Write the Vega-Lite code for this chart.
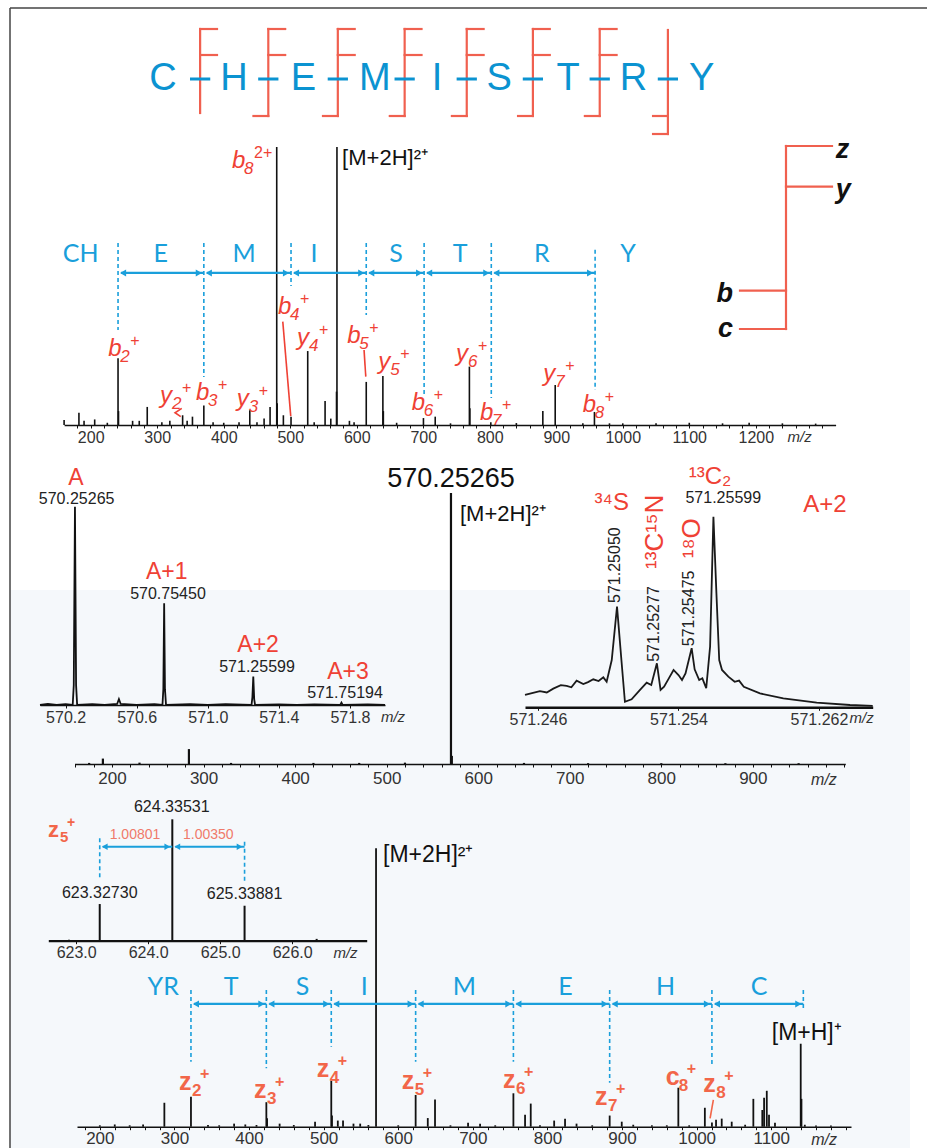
{
"$schema":"https://vega.github.io/schema/vega-lite/v6.json",
"width":927,"height":1148,"padding":0,"autosize":"none","background":"white",
"config":{"view":{"stroke":null},"axis":{"grid":false,"domainColor":"#111","tickColor":"#111","labelColor":"#333","labelFont":"Liberation Sans","labelFlush":false,"labelOverlap":false,"title":null,"domainWidth":1.6,"tickWidth":1},"text":{"font":"Liberation Sans"}},
"datasets":{
"frame_bg":[{"x1":0,"x2":0.9815,"y1":0,"y2":0.4895}],
"frame":[{"x1":0,"x2":1,"y1":1,"y2":1},{"x1":0,"x2":0,"y1":0,"y2":1}],
"hdr_letters":[{"x":1,"t":"C"},{"x":2.05,"t":"H"},{"x":3.08,"t":"E"},{"x":4.14,"t":"M"},{"x":5.06,"t":"I"},{"x":5.98,"t":"S"},{"x":7.0,"t":"T"},{"x":7.97,"t":"R"},{"x":8.98,"t":"Y"}],
"hdr_dash":[{"x1":1.4,"x2":1.7,"y":6.9},{"x1":2.41,"x2":2.71,"y":6.9},{"x1":3.44,"x2":3.74,"y":6.9},{"x1":4.43,"x2":4.73,"y":6.9},{"x1":5.35,"x2":5.65,"y":6.9},{"x1":6.33,"x2":6.63,"y":6.9},{"x1":7.32,"x2":7.62,"y":6.9},{"x1":8.33,"x2":8.63,"y":6.9}],
"hdr_red":[
{"x1":1.55,"x2":1.55,"y1":3.5,"y2":11.9},{"x1":1.55,"x2":1.8,"y1":11.9,"y2":11.9},{"x1":1.55,"x2":1.8,"y1":9.3,"y2":9.3},
{"x1":2.56,"x2":2.56,"y1":3.2,"y2":11.9},{"x1":2.56,"x2":2.81,"y1":11.9,"y2":11.9},{"x1":2.56,"x2":2.81,"y1":9.3,"y2":9.3},{"x1":2.34,"x2":2.56,"y1":3.2,"y2":3.2},
{"x1":3.59,"x2":3.59,"y1":3.2,"y2":11.9},{"x1":3.59,"x2":3.84,"y1":11.9,"y2":11.9},{"x1":3.59,"x2":3.84,"y1":9.3,"y2":9.3},{"x1":3.37,"x2":3.59,"y1":3.2,"y2":3.2},
{"x1":4.58,"x2":4.58,"y1":3.2,"y2":11.9},{"x1":4.58,"x2":4.83,"y1":11.9,"y2":11.9},{"x1":4.58,"x2":4.83,"y1":9.3,"y2":9.3},{"x1":4.36,"x2":4.58,"y1":3.2,"y2":3.2},
{"x1":5.5,"x2":5.5,"y1":3.2,"y2":11.9},{"x1":5.5,"x2":5.75,"y1":11.9,"y2":11.9},{"x1":5.5,"x2":5.75,"y1":9.3,"y2":9.3},{"x1":5.28,"x2":5.5,"y1":3.2,"y2":3.2},
{"x1":6.48,"x2":6.48,"y1":3.2,"y2":11.9},{"x1":6.48,"x2":6.73,"y1":11.9,"y2":11.9},{"x1":6.48,"x2":6.73,"y1":9.3,"y2":9.3},{"x1":6.26,"x2":6.48,"y1":3.2,"y2":3.2},
{"x1":7.47,"x2":7.47,"y1":3.2,"y2":11.9},{"x1":7.47,"x2":7.72,"y1":11.9,"y2":11.9},{"x1":7.47,"x2":7.72,"y1":9.3,"y2":9.3},{"x1":7.25,"x2":7.47,"y1":3.2,"y2":3.2},
{"x1":8.48,"x2":8.48,"y1":1.4,"y2":11.8},{"x1":8.26,"x2":8.48,"y1":3.2,"y2":3.2},{"x1":8.26,"x2":8.48,"y1":1.4,"y2":1.4}],
"top_peaks":[{"mz":160,"i":1.8},{"mz":182.3,"i":4.4},{"mz":190,"i":1.5},{"mz":206,"i":2},{"mz":225,"i":0.8},{"mz":241.1,"i":24},{"mz":241.8,"i":5},{"mz":263,"i":1.5},{"mz":273,"i":1.5},{"mz":285,"i":6.5},{"mz":307,"i":1},{"mz":319,"i":1.5},{"mz":338.2,"i":3.5},{"mz":345,"i":1.5},{"mz":353,"i":3},{"mz":370.1,"i":7},{"mz":384,"i":1},{"mz":400,"i":0.8},{"mz":423,"i":1},{"mz":439.2,"i":5.3},{"mz":450,"i":1},{"mz":460.7,"i":2.3},{"mz":469.7,"i":6.5},{"mz":479.7,"i":100},{"mz":480.4,"i":7.8},{"mz":489.7,"i":3.5},{"mz":501.2,"i":3},{"mz":526.3,"i":26.6},{"mz":536,"i":1},{"mz":552.4,"i":8.6},{"mz":561,"i":2.3},{"mz":570.25,"i":100},{"mz":569.6,"i":12},{"mz":589,"i":1.5},{"mz":596,"i":1},{"mz":614.3,"i":15.5},{"mz":639.3,"i":17.6},{"mz":640,"i":5},{"mz":660,"i":0.8},{"mz":700.3,"i":2.5},{"mz":718,"i":3},{"mz":741,"i":0.6},{"mz":769.4,"i":21},{"mz":770.1,"i":6},{"mz":801.6,"i":1},{"mz":840,"i":0.7},{"mz":879.8,"i":5},{"mz":898.4,"i":14.4},{"mz":940,"i":0.6},{"mz":957.4,"i":4.7},{"mz":980,"i":0.6},{"mz":1000,"i":0.6},{"mz":1050,"i":0.6},{"mz":1100,"i":0.8},{"mz":1150,"i":0.6},{"mz":1190,"i":0.8},{"mz":1240,"i":0.6},{"mz":1290,"i":0.5}],
"top_dash":[{"mz":241.1,"i1":65.5,"i2":34.2},{"mz":370.1,"i1":65.5,"i2":17.3},{"mz":501.2,"i1":65.5,"i2":50},{"mz":614.3,"i1":65.5,"i2":39.6},{"mz":701.3,"i1":65.5,"i2":10.8},{"mz":802.3,"i1":65.5,"i2":9.7},{"mz":958.4,"i1":63,"i2":12.6}],
"top_arr":[{"a":241.1,"b":370.1,"i":54.7},{"a":370.1,"b":501.2,"i":54.7},{"a":501.2,"b":614.3,"i":54.7},{"a":614.3,"b":701.3,"i":54.7},{"a":701.3,"b":802.3,"i":54.7},{"a":802.3,"b":958.4,"i":54.7}],
"top_res":[{"mz":185,"i":61.5,"t":"CH"},{"mz":305.3,"i":61.5,"t":"E"},{"mz":430.6,"i":61.5,"t":"M"},{"mz":535.8,"i":61.5,"t":"I"},{"mz":658.9,"i":61.5,"t":"S"},{"mz":755.4,"i":61.5,"t":"T"},{"mz":878.2,"i":61.5,"t":"R"},{"mz":1008,"i":61.5,"t":"Y"}],
"top_ions":[{"mz":226.2,"i":25,"b":"b","s":"2","p":"+"},{"mz":304.3,"i":7.9,"b":"y","s":"2","p":"+"},{"mz":358.4,"i":9,"b":"b","s":"3","p":"+"},{"mz":419.6,"i":6.8,"b":"y","s":"3","p":"+"},{"mz":481.5,"i":39.8,"b":"b","s":"4","p":"+"},{"mz":510,"i":28.6,"b":"y","s":"4","p":"+"},{"mz":585.9,"i":29.5,"b":"b","s":"5","p":"+"},{"mz":632.5,"i":20.1,"b":"y","s":"5","p":"+"},{"mz":682.7,"i":5.4,"b":"b","s":"6","p":"+"},{"mz":749.4,"i":23,"b":"y","s":"6","p":"+"},{"mz":785.5,"i":1.8,"b":"b","s":"7","p":"+"},{"mz":880.6,"i":15.8,"b":"y","s":"7","p":"+"},{"mz":939.9,"i":4.8,"b":"b","s":"8","p":"+"},{"mz":412.5,"i":92.4,"b":"b","s":"8","p":"2+"}],
"top_lead":[{"id":"b4","s":0,"mz":488.8,"i":37.2},{"id":"b4","s":1,"mz":500.8,"i":3.2},{"id":"b5","s":0,"mz":611,"i":27},{"id":"b5","s":1,"mz":613.6,"i":17.4},{"id":"y2","s":0,"mz":336.9,"i":6},{"id":"y2","s":1,"mz":326.8,"i":4.4},{"id":"y2","s":2,"mz":335.4,"i":3}],
"top_black":[{"mz":578,"i":96,"t":"[M+2H]²⁺"}],
"top_mz":[{"mz":1266,"i":-4.3,"t":"m/z"}],
"leg_seg":[{"x1":1,"x2":1,"y1":0,"y2":4},{"x1":1,"x2":2,"y1":4,"y2":4},{"x1":1,"x2":2,"y1":3.11,"y2":3.11},{"x1":0,"x2":1,"y1":0.84,"y2":0.84},{"x1":0,"x2":1,"y1":0,"y2":0}],
"leg_r":[{"x":2.08,"y":3.91,"t":"z"},{"x":2.08,"y":3.04,"t":"y"}],
"leg_l":[{"x":-0.15,"y":0.77,"t":"b"},{"x":-0.15,"y":0,"t":"c"}],
"mid_peaks":[{"mz":175,"i":0.4},{"mz":190,"i":2},{"mz":230,"i":0.5},{"mz":284,"i":5.5},{"mz":330,"i":0.4},{"mz":420,"i":0.4},{"mz":470,"i":0.4},{"mz":520,"i":0.5},{"mz":570.25,"i":100},{"mz":571.2,"i":3},{"mz":650,"i":0.4},{"mz":720,"i":0.3},{"mz":800,"i":0.3},{"mz":870,"i":0.3},{"mz":950,"i":0.3}],
"mid_big":[{"mz":570.25,"i":105.2,"t":"570.25265"}],
"mid_ion":[{"mz":580.1,"i":92.3,"t":"[M+2H]²⁺"}],
"mid_mz":[{"mz":977.7,"i":-5.9,"t":"m/z"}],
"in1_line":[{"mz":570.056,"i":0},{"mz":570.1,"i":0.5},{"mz":570.15,"i":0},{"mz":570.2,"i":0.4},{"mz":570.24,"i":0},{"mz":570.246,"i":10},{"mz":570.2527,"i":100},{"mz":570.259,"i":10},{"mz":570.265,"i":0},{"mz":570.35,"i":0.4},{"mz":570.42,"i":0},{"mz":570.49,"i":0.5},{"mz":570.5,"i":3},{"mz":570.51,"i":0.5},{"mz":570.6,"i":0},{"mz":570.7,"i":0.4},{"mz":570.745,"i":0},{"mz":570.75,"i":8},{"mz":570.7545,"i":51.3},{"mz":570.759,"i":8},{"mz":570.765,"i":0},{"mz":570.9,"i":0.4},{"mz":571.0,"i":0},{"mz":571.1,"i":0.4},{"mz":571.246,"i":0},{"mz":571.251,"i":4},{"mz":571.256,"i":14.3},{"mz":571.261,"i":3},{"mz":571.266,"i":0},{"mz":571.4,"i":0.3},{"mz":571.5,"i":0},{"mz":571.6,"i":0.3},{"mz":571.745,"i":0},{"mz":571.752,"i":1.2},{"mz":571.759,"i":0},{"mz":571.9,"i":0.3},{"mz":571.997,"i":0}],
"in1_red":[{"mz":570.258,"i":114.5,"t":"A"},{"mz":570.769,"i":67.2,"t":"A+1"},{"mz":571.283,"i":30.3,"t":"A+2"},{"mz":571.789,"i":16.8,"t":"A+3"}],
"in1_num":[{"mz":570.262,"i":103.9,"t":"570.25265"},{"mz":570.776,"i":56,"t":"570.75450"},{"mz":571.277,"i":19,"t":"571.25599"},{"mz":571.772,"i":5.9,"t":"571.75194"}],
"in1_mz":[{"mz":572.042,"i":-6,"t":"m/z"}],
"in2_line":[{"mz":571.24526,"i":6.5},{"mz":571.24611,"i":8.5},{"mz":571.2465,"i":7.8},{"mz":571.24687,"i":9.8},{"mz":571.2473,"i":11.6},{"mz":571.24763,"i":11.2},{"mz":571.2479,"i":10.5},{"mz":571.2482,"i":14},{"mz":571.24858,"i":12.2},{"mz":571.24885,"i":13.2},{"mz":571.24915,"i":14.7},{"mz":571.24945,"i":13.8},{"mz":571.24972,"i":15.7},{"mz":571.24991,"i":13.4},{"mz":571.2502,"i":24.8},{"mz":571.2505,"i":52.8},{"mz":571.25075,"i":24.8},{"mz":571.25095,"i":2.9},{"mz":571.25133,"i":4.2},{"mz":571.25181,"i":9.1},{"mz":571.25219,"i":12.9},{"mz":571.25245,"i":11.7},{"mz":571.25277,"i":23.1},{"mz":571.25298,"i":9.1},{"mz":571.25318,"i":10.8},{"mz":571.25345,"i":15.2},{"mz":571.25372,"i":19.6},{"mz":571.254,"i":16.9},{"mz":571.2542,"i":14.3},{"mz":571.2544,"i":17.8},{"mz":571.25475,"i":31},{"mz":571.25492,"i":19.9},{"mz":571.25518,"i":14.3},{"mz":571.25536,"i":15.2},{"mz":571.25558,"i":10},{"mz":571.2558,"i":31.8},{"mz":571.25599,"i":100},{"mz":571.25616,"i":59.8},{"mz":571.25632,"i":24.8},{"mz":571.25648,"i":19.6},{"mz":571.25684,"i":16.1},{"mz":571.2572,"i":13.4},{"mz":571.25745,"i":14},{"mz":571.25772,"i":10.8},{"mz":571.25864,"i":7.3},{"mz":571.25997,"i":4.7},{"mz":571.26187,"i":2.4},{"mz":571.26377,"i":1.2},{"mz":571.26506,"i":0.7}],
"in2_num_h":[{"mz":571.25655,"i":109.7,"t":"571.25599"}],
"in2_num_v":[{"mz":571.2504,"i":74.6,"t":"571.25050"},{"mz":571.2526,"i":43.7,"t":"571.25277"},{"mz":571.2546,"i":51.9,"t":"571.25475"}],
"in2_red_h":[{"mz":571.2558,"i":121,"t":"¹³C₂"},{"mz":571.2502,"i":107,"t":"³⁴S"},{"mz":571.26234,"i":106.1,"t":"A+2"}],
"in2_red_v":[{"mz":571.25266,"i":92.1,"t":"¹³C¹⁵N"},{"mz":571.25475,"i":88.7,"t":"¹⁸O"}],
"in2_mz":[{"mz":571.26443,"i":-5.8,"t":"m/z"}],
"bot_peaks":[{"mz":200,"i":0.5},{"mz":220,"i":0.8},{"mz":240,"i":0.5},{"mz":258,"i":0.8},{"mz":286.5,"i":8.6},{"mz":322.16,"i":10.8},{"mz":345,"i":0.6},{"mz":360,"i":0.5},{"mz":380,"i":1.1},{"mz":395,"i":0.8},{"mz":410,"i":0.6},{"mz":423.21,"i":8.8},{"mz":424.2,"i":3},{"mz":441,"i":1.1},{"mz":460,"i":0.6},{"mz":488.5,"i":1.8},{"mz":510.24,"i":16.5},{"mz":511.2,"i":4},{"mz":519,"i":2.2},{"mz":526,"i":2.2},{"mz":540,"i":1.1},{"mz":549,"i":1.1},{"mz":560,"i":0.6},{"mz":570.25,"i":100},{"mz":600,"i":0.5},{"mz":623.33,"i":11.4},{"mz":639.6,"i":3.1},{"mz":649.3,"i":9.8},{"mz":670,"i":0.5},{"mz":693.6,"i":1.4},{"mz":709.7,"i":1.1},{"mz":730,"i":0.5},{"mz":754.37,"i":12},{"mz":770,"i":4.3},{"mz":777.6,"i":8.3},{"mz":790,"i":0.5},{"mz":809,"i":2.2},{"mz":823.6,"i":2.9},{"mz":839,"i":1.1},{"mz":860,"i":0.5},{"mz":883.41,"i":4},{"mz":899.6,"i":1.8},{"mz":915,"i":0.7},{"mz":940,"i":0.5},{"mz":960,"i":0.5},{"mz":975.45,"i":14},{"mz":990,"i":0.5},{"mz":1011,"i":6.8},{"mz":1020.5,"i":1.5},{"mz":1026,"i":2.5},{"mz":1033.6,"i":2.9},{"mz":1047,"i":1.8},{"mz":1065,"i":0.7},{"mz":1076,"i":10},{"mz":1088,"i":6},{"mz":1090.4,"i":10.4},{"mz":1094,"i":12.9},{"mz":1097,"i":4.3},{"mz":1105,"i":1.4},{"mz":1139.5,"i":29.8},{"mz":1140.5,"i":10},{"mz":1145,"i":0.7},{"mz":1160,"i":0.4},{"mz":1180,"i":0.4}],
"bot_dash":[{"mz":322.16,"i1":49.1,"i2":23.3},{"mz":423.21,"i1":49.1,"i2":21},{"mz":510.24,"i1":49.1,"i2":28.7},{"mz":623.33,"i1":49.1,"i2":23.3},{"mz":754.37,"i1":49.1,"i2":23.3},{"mz":883.41,"i1":49.1,"i2":15.8},{"mz":1020.47,"i1":49.1,"i2":22.2},{"mz":1143,"i1":49.1,"i2":42.5}],
"bot_arr":[{"a":322.16,"b":423.21,"i":44.1},{"a":423.21,"b":510.24,"i":44.1},{"a":510.24,"b":623.33,"i":44.1},{"a":623.33,"b":754.37,"i":44.1},{"a":754.37,"b":883.41,"i":44.1},{"a":883.41,"b":1020.47,"i":44.1},{"a":1020.47,"b":1143,"i":44.1}],
"bot_res":[{"mz":284.9,"i":50.3,"t":"YR"},{"mz":375.9,"i":50.3,"t":"T"},{"mz":471.6,"i":50.3,"t":"S"},{"mz":554.6,"i":50.3,"t":"I"},{"mz":688.6,"i":50.3,"t":"M"},{"mz":824.3,"i":50.3,"t":"E"},{"mz":958.3,"i":50.3,"t":"H"},{"mz":1083.6,"i":50.3,"t":"C"}],
"bot_ions":[{"mz":306.2,"i":13.2,"b":"z","s":"2","p":"+"},{"mz":406.7,"i":10.2,"b":"z","s":"3","p":"+"},{"mz":490.8,"i":18,"b":"z","s":"4","p":"+"},{"mz":604.7,"i":13.5,"b":"z","s":"5","p":"+"},{"mz":740.5,"i":13.9,"b":"z","s":"6","p":"+"},{"mz":863.8,"i":7.8,"b":"z","s":"7","p":"+"},{"mz":958.6,"i":15,"b":"c","s":"8","p":"+"},{"mz":1009,"i":12.6,"b":"z","s":"8","p":"+"}],
"bot_lead":[{"id":"z8","s":0,"mz":1022.4,"i":9.6},{"id":"z8","s":1,"mz":1018,"i":3}],
"bot_black":[{"mz":579.6,"i":97.6,"t":"[M+2H]²⁺"},{"mz":1100.7,"i":33.5,"t":"[M+H]⁺"}],
"bot_mz":[{"mz":1170.8,"i":-4.8,"t":"m/z"}],
"in3_peaks":[{"mz":622.7,"i":0.5},{"mz":622.9,"i":0.8},{"mz":623.1,"i":0.5},{"mz":623.3273,"i":30.2},{"mz":623.6,"i":0.6},{"mz":623.9,"i":0.6},{"mz":624.1,"i":0.5},{"mz":624.3353,"i":100},{"mz":624.6,"i":0.6},{"mz":624.9,"i":0.6},{"mz":625.1,"i":0.5},{"mz":625.3388,"i":28.8},{"mz":625.6,"i":0.6},{"mz":625.9,"i":0.5},{"mz":626.1,"i":0.6},{"mz":626.34,"i":1.5},{"mz":626.6,"i":0.5},{"mz":626.8,"i":0.5}],
"in3_dash":[{"mz":623.3273,"i1":84.3,"i2":51.4},{"mz":625.3388,"i1":81.5,"i2":47.3}],
"in3_arr":[{"a":623.3273,"b":624.3353,"i":77.4},{"a":624.3353,"b":625.3388,"i":77.4}],
"in3_num":[{"mz":624.328,"i":109.9,"t":"624.33531"},{"mz":623.327,"i":39,"t":"623.32730"},{"mz":625.339,"i":38.2,"t":"625.33881"}],
"in3_red":[{"mz":623.817,"i":87.1,"t":"1.00801"},{"mz":624.835,"i":87.1,"t":"1.00350"}],
"in3_z":[{"mz":622.61,"i":85.7,"b":"z","s":"5","p":"+"}],
"in3_mz":[{"mz":626.74,"i":-10.1,"t":"m/z"}]
},
"layer":[
 {"data":{"name":"frame_bg"},"mark":{"type":"rect","fill":"#f5f8fb"},"encoding":{"x":{"field":"x1","type":"quantitative","scale":{"domain":[0,1],"range":[10,927],"nice":false,"zero":false},"axis":null},"x2":{"field":"x2"},"y":{"field":"y1","type":"quantitative","scale":{"domain":[0,1],"range":[1148,8],"nice":false,"zero":false},"axis":null},"y2":{"field":"y2"}}},
 {"data":{"name":"frame"},"mark":{"type":"rule","color":"#444","strokeWidth":1.5},"encoding":{"x":{"field":"x1","type":"quantitative","scale":{"domain":[0,1],"range":[10,927],"nice":false,"zero":false},"axis":null},"x2":{"field":"x2"},"y":{"field":"y1","type":"quantitative","scale":{"domain":[0,1],"range":[1148,8],"nice":false,"zero":false},"axis":null},"y2":{"field":"y2"}}},
 {"data":{"name":"hdr_red"},"mark":{"type":"rule","color":"#f0604f","strokeWidth":2.2,"strokeCap":"square"},"encoding":{"x":{"field":"x1","type":"quantitative","scale":{"domain":[1,9],"range":[163,703],"nice":false,"zero":false},"axis":null},"x2":{"field":"x2"},"y":{"field":"y1","type":"quantitative","scale":{"domain":[0,12],"range":[148,28],"nice":false,"zero":false},"axis":null},"y2":{"field":"y2"}}},
 {"data":{"name":"hdr_dash"},"mark":{"type":"rule","color":"#0b93d1","strokeWidth":3},"encoding":{"x":{"field":"x1","type":"quantitative","scale":{"domain":[1,9],"range":[163,703],"nice":false,"zero":false},"axis":null},"x2":{"field":"x2"},"y":{"field":"y","type":"quantitative","scale":{"domain":[0,12],"range":[148,28],"nice":false,"zero":false},"axis":null}}},
 {"data":{"name":"hdr_letters"},"mark":{"type":"text","color":"#0b93d1","fontSize":38,"align":"center","baseline":"middle"},"encoding":{"x":{"field":"x","type":"quantitative","scale":{"domain":[1,9],"range":[163,703],"nice":false,"zero":false},"axis":null},"y":{"datum":6.9,"type":"quantitative","scale":{"domain":[0,12],"range":[148,28],"nice":false,"zero":false},"axis":null},"text":{"field":"t"}}},
 {"data":{"name":"top_peaks"},"mark":{"type":"rule","color":"#111","strokeWidth":1.6},"encoding":{"x":{"field":"mz","type":"quantitative","scale":{"domain":[160,1320],"range":[64.1,835.6],"nice":false,"zero":false},"axis":{"orient":"bottom","offset":-723,"zindex":1,"title":null,"values":[180,200,220,240,260,280,300,320,340,360,380,400,420,440,460,480,500,520,540,560,580,600,620,640,660,680,700,720,740,760,780,800,820,840,860,880,900,920,940,960,980,1000,1020,1040,1060,1080,1100,1120,1140,1160,1180,1200,1220,1240,1260,1280,1300],"format":"d","labelExpr":"(datum.value % 100 === 0 && datum.value <= 1200) ? datum.label : ''","tickSize":3,"labelPadding":1,"labelFontSize":16}},"y":{"field":"i","type":"quantitative","scale":{"domain":[0,100],"range":[425,147],"nice":false,"zero":false},"axis":null},"y2":{"datum":0}}},
 {"data":{"name":"top_dash"},"mark":{"type":"rule","color":"#1a9fdb","strokeWidth":1.6,"strokeDash":[4,3]},"encoding":{"x":{"field":"mz","type":"quantitative","scale":{"domain":[160,1320],"range":[64.1,835.6],"nice":false,"zero":false},"axis":null},"y":{"field":"i1","type":"quantitative","scale":{"domain":[0,100],"range":[425,147],"nice":false,"zero":false},"axis":null},"y2":{"field":"i2"}}},
 {"data":{"name":"top_arr"},"mark":{"type":"rule","color":"#1a9fdb","strokeWidth":2.2},"encoding":{"x":{"field":"a","type":"quantitative","scale":{"domain":[160,1320],"range":[64.1,835.6],"nice":false,"zero":false},"axis":null},"x2":{"field":"b"},"xOffset":{"value":3},"x2Offset":{"value":-3},"y":{"field":"i","type":"quantitative","scale":{"domain":[0,100],"range":[425,147],"nice":false,"zero":false},"axis":null}}},
 {"data":{"name":"top_arr"},"mark":{"type":"point","shape":"triangle-left","filled":true,"color":"#1a9fdb","size":50,"opacity":1},"encoding":{"x":{"field":"a","type":"quantitative","scale":{"domain":[160,1320],"range":[64.1,835.6],"nice":false,"zero":false},"axis":null},"xOffset":{"value":5},"y":{"field":"i","type":"quantitative","scale":{"domain":[0,100],"range":[425,147],"nice":false,"zero":false},"axis":null}}},
 {"data":{"name":"top_arr"},"mark":{"type":"point","shape":"triangle-right","filled":true,"color":"#1a9fdb","size":50,"opacity":1},"encoding":{"x":{"field":"b","type":"quantitative","scale":{"domain":[160,1320],"range":[64.1,835.6],"nice":false,"zero":false},"axis":null},"xOffset":{"value":-5},"y":{"field":"i","type":"quantitative","scale":{"domain":[0,100],"range":[425,147],"nice":false,"zero":false},"axis":null}}},
 {"data":{"name":"top_res"},"mark":{"type":"text","color":"#1a9fdb","font":"Lato","fontSize":25,"align":"center","baseline":"middle"},"encoding":{"x":{"field":"mz","type":"quantitative","scale":{"domain":[160,1320],"range":[64.1,835.6],"nice":false,"zero":false},"axis":null},"y":{"field":"i","type":"quantitative","scale":{"domain":[0,100],"range":[425,147],"nice":false,"zero":false},"axis":null},"text":{"field":"t"}}},
 {"data":{"name":"top_lead"},"mark":{"type":"line","color":"#ef4135","strokeWidth":1.6},"encoding":{"x":{"field":"mz","type":"quantitative","scale":{"domain":[160,1320],"range":[64.1,835.6],"nice":false,"zero":false},"axis":null},"y":{"field":"i","type":"quantitative","scale":{"domain":[0,100],"range":[425,147],"nice":false,"zero":false},"axis":null},"detail":{"field":"id"},"order":{"field":"s"}}},
 {"data":{"name":"top_ions"},"mark":{"type":"text","color":"#ef4135","fontSize":24,"fontStyle":"italic","align":"left","baseline":"alphabetic"},"encoding":{"x":{"field":"mz","type":"quantitative","scale":{"domain":[160,1320],"range":[64.1,835.6],"nice":false,"zero":false},"axis":null},"y":{"field":"i","type":"quantitative","scale":{"domain":[0,100],"range":[425,147],"nice":false,"zero":false},"axis":null},"text":{"field":"b"}}},
 {"data":{"name":"top_ions"},"mark":{"type":"text","color":"#ef4135","fontSize":17,"fontStyle":"italic","align":"left","baseline":"alphabetic","dx":12,"dy":6},"encoding":{"x":{"field":"mz","type":"quantitative","scale":{"domain":[160,1320],"range":[64.1,835.6],"nice":false,"zero":false},"axis":null},"y":{"field":"i","type":"quantitative","scale":{"domain":[0,100],"range":[425,147],"nice":false,"zero":false},"axis":null},"text":{"field":"s"}}},
 {"data":{"name":"top_ions"},"mark":{"type":"text","color":"#ef4135","fontSize":16,"align":"left","baseline":"alphabetic","dx":22,"dy":-10},"encoding":{"x":{"field":"mz","type":"quantitative","scale":{"domain":[160,1320],"range":[64.1,835.6],"nice":false,"zero":false},"axis":null},"y":{"field":"i","type":"quantitative","scale":{"domain":[0,100],"range":[425,147],"nice":false,"zero":false},"axis":null},"text":{"field":"p"}}},
 {"data":{"name":"top_black"},"mark":{"type":"text","color":"#111","fontSize":22,"align":"left","baseline":"middle"},"encoding":{"x":{"field":"mz","type":"quantitative","scale":{"domain":[160,1320],"range":[64.1,835.6],"nice":false,"zero":false},"axis":null},"y":{"field":"i","type":"quantitative","scale":{"domain":[0,100],"range":[425,147],"nice":false,"zero":false},"axis":null},"text":{"field":"t"}}},
 {"data":{"name":"top_mz"},"mark":{"type":"text","color":"#333","fontSize":15,"fontStyle":"italic","align":"center","baseline":"middle"},"encoding":{"x":{"field":"mz","type":"quantitative","scale":{"domain":[160,1320],"range":[64.1,835.6],"nice":false,"zero":false},"axis":null},"y":{"field":"i","type":"quantitative","scale":{"domain":[0,100],"range":[425,147],"nice":false,"zero":false},"axis":null},"text":{"field":"t"}}},
 {"data":{"name":"leg_seg"},"mark":{"type":"rule","color":"#f0604f","strokeWidth":2.2,"strokeCap":"square"},"encoding":{"x":{"field":"x1","type":"quantitative","scale":{"domain":[0,2],"range":[740,832],"nice":false,"zero":false},"axis":null},"x2":{"field":"x2"},"y":{"field":"y1","type":"quantitative","scale":{"domain":[0,4],"range":[329,146],"nice":false,"zero":false},"axis":null},"y2":{"field":"y2"}}},
 {"data":{"name":"leg_r"},"mark":{"type":"text","color":"#111","fontSize":27,"fontStyle":"italic","fontWeight":"bold","align":"left","baseline":"middle"},"encoding":{"x":{"field":"x","type":"quantitative","scale":{"domain":[0,2],"range":[740,832],"nice":false,"zero":false},"axis":null},"y":{"field":"y","type":"quantitative","scale":{"domain":[0,4],"range":[329,146],"nice":false,"zero":false},"axis":null},"text":{"field":"t"}}},
 {"data":{"name":"leg_l"},"mark":{"type":"text","color":"#111","fontSize":27,"fontStyle":"italic","fontWeight":"bold","align":"right","baseline":"middle"},"encoding":{"x":{"field":"x","type":"quantitative","scale":{"domain":[0,2],"range":[740,832],"nice":false,"zero":false},"axis":null},"y":{"field":"y","type":"quantitative","scale":{"domain":[0,4],"range":[329,146],"nice":false,"zero":false},"axis":null},"text":{"field":"t"}}},
 {"data":{"name":"mid_peaks"},"mark":{"type":"rule","color":"#111","strokeWidth":2.2},"encoding":{"x":{"field":"mz","type":"quantitative","scale":{"domain":[159,1001],"range":[74.5,845.3],"nice":false,"zero":false},"axis":{"orient":"bottom","offset":-384,"zindex":1,"title":null,"values":[160,180,200,220,240,260,280,300,320,340,360,380,400,420,440,460,480,500,520,540,560,580,600,620,640,660,680,700,720,740,760,780,800,820,840,860,880,900,920,940,960,980,1000],"format":"d","labelExpr":"(datum.value % 100 === 0 && datum.value <= 900) ? datum.label : ''","tickSize":3,"labelPadding":3,"labelFontSize":17}},"y":{"field":"i","type":"quantitative","scale":{"domain":[0,100],"range":[764,493],"nice":false,"zero":false},"axis":null},"y2":{"datum":0}}},
 {"data":{"name":"mid_big"},"mark":{"type":"text","color":"#111","fontSize":27,"align":"center","baseline":"middle"},"encoding":{"x":{"field":"mz","type":"quantitative","scale":{"domain":[159,1001],"range":[74.5,845.3],"nice":false,"zero":false},"axis":null},"y":{"field":"i","type":"quantitative","scale":{"domain":[0,100],"range":[764,493],"nice":false,"zero":false},"axis":null},"text":{"field":"t"}}},
 {"data":{"name":"mid_ion"},"mark":{"type":"text","color":"#111","fontSize":22,"align":"left","baseline":"middle"},"encoding":{"x":{"field":"mz","type":"quantitative","scale":{"domain":[159,1001],"range":[74.5,845.3],"nice":false,"zero":false},"axis":null},"y":{"field":"i","type":"quantitative","scale":{"domain":[0,100],"range":[764,493],"nice":false,"zero":false},"axis":null},"text":{"field":"t"}}},
 {"data":{"name":"mid_mz"},"mark":{"type":"text","color":"#333","fontSize":16,"fontStyle":"italic","align":"center","baseline":"middle"},"encoding":{"x":{"field":"mz","type":"quantitative","scale":{"domain":[159,1001],"range":[74.5,845.3],"nice":false,"zero":false},"axis":null},"y":{"field":"i","type":"quantitative","scale":{"domain":[0,100],"range":[764,493],"nice":false,"zero":false},"axis":null},"text":{"field":"t"}}},
 {"data":{"name":"in1_line"},"mark":{"type":"line","color":"#111","strokeWidth":1.8},"encoding":{"x":{"field":"mz","type":"quantitative","scale":{"domain":[570.056,571.997],"range":[40,385],"nice":false,"zero":false},"axis":{"orient":"bottom","offset":-443,"zindex":1,"title":null,"values":[570.2,570.6,571.0,571.4,571.8],"format":".1f","tickSize":3,"labelPadding":1,"labelFontSize":16}},"y":{"field":"i","type":"quantitative","scale":{"domain":[0,100],"range":[705,506.7],"nice":false,"zero":false},"axis":null}}},
 {"data":{"name":"in1_red"},"mark":{"type":"text","color":"#ef4135","fontSize":23,"align":"center","baseline":"middle"},"encoding":{"x":{"field":"mz","type":"quantitative","scale":{"domain":[570.056,571.997],"range":[40,385],"nice":false,"zero":false},"axis":null},"y":{"field":"i","type":"quantitative","scale":{"domain":[0,100],"range":[705,506.7],"nice":false,"zero":false},"axis":null},"text":{"field":"t"}}},
 {"data":{"name":"in1_num"},"mark":{"type":"text","color":"#222","fontSize":16,"align":"center","baseline":"middle"},"encoding":{"x":{"field":"mz","type":"quantitative","scale":{"domain":[570.056,571.997],"range":[40,385],"nice":false,"zero":false},"axis":null},"y":{"field":"i","type":"quantitative","scale":{"domain":[0,100],"range":[705,506.7],"nice":false,"zero":false},"axis":null},"text":{"field":"t"}}},
 {"data":{"name":"in1_mz"},"mark":{"type":"text","color":"#333","fontSize":15,"fontStyle":"italic","align":"center","baseline":"middle"},"encoding":{"x":{"field":"mz","type":"quantitative","scale":{"domain":[570.056,571.997],"range":[40,385],"nice":false,"zero":false},"axis":null},"y":{"field":"i","type":"quantitative","scale":{"domain":[0,100],"range":[705,506.7],"nice":false,"zero":false},"axis":null},"text":{"field":"t"}}},
 {"data":{"name":"in2_line"},"mark":{"type":"line","color":"#1a1a1a","strokeWidth":1.8},"encoding":{"x":{"field":"mz","type":"quantitative","scale":{"domain":[571.24526,571.26506],"range":[525,872.7],"nice":false,"zero":false},"axis":{"orient":"bottom","offset":-440.7,"zindex":1,"title":null,"values":[571.246,571.254,571.262],"format":".3f","tickSize":3,"labelPadding":1,"labelFontSize":16,"domainWidth":2.5}},"y":{"field":"i","type":"quantitative","scale":{"domain":[0,100],"range":[707.3,516.7],"nice":false,"zero":false},"axis":null}}},
 {"data":{"name":"in2_num_h"},"mark":{"type":"text","color":"#222","fontSize":16,"align":"center","baseline":"middle"},"encoding":{"x":{"field":"mz","type":"quantitative","scale":{"domain":[571.24526,571.26506],"range":[525,872.7],"nice":false,"zero":false},"axis":null},"y":{"field":"i","type":"quantitative","scale":{"domain":[0,100],"range":[707.3,516.7],"nice":false,"zero":false},"axis":null},"text":{"field":"t"}}},
 {"data":{"name":"in2_num_v"},"mark":{"type":"text","color":"#222","fontSize":16,"angle":270,"align":"center","baseline":"middle"},"encoding":{"x":{"field":"mz","type":"quantitative","scale":{"domain":[571.24526,571.26506],"range":[525,872.7],"nice":false,"zero":false},"axis":null},"y":{"field":"i","type":"quantitative","scale":{"domain":[0,100],"range":[707.3,516.7],"nice":false,"zero":false},"axis":null},"text":{"field":"t"}}},
 {"data":{"name":"in2_red_h"},"mark":{"type":"text","color":"#ef4135","fontSize":24,"align":"center","baseline":"middle"},"encoding":{"x":{"field":"mz","type":"quantitative","scale":{"domain":[571.24526,571.26506],"range":[525,872.7],"nice":false,"zero":false},"axis":null},"y":{"field":"i","type":"quantitative","scale":{"domain":[0,100],"range":[707.3,516.7],"nice":false,"zero":false},"axis":null},"text":{"field":"t"}}},
 {"data":{"name":"in2_red_v"},"mark":{"type":"text","color":"#ef4135","fontSize":26,"angle":270,"align":"center","baseline":"middle"},"encoding":{"x":{"field":"mz","type":"quantitative","scale":{"domain":[571.24526,571.26506],"range":[525,872.7],"nice":false,"zero":false},"axis":null},"y":{"field":"i","type":"quantitative","scale":{"domain":[0,100],"range":[707.3,516.7],"nice":false,"zero":false},"axis":null},"text":{"field":"t"}}},
 {"data":{"name":"in2_mz"},"mark":{"type":"text","color":"#333","fontSize":15,"fontStyle":"italic","align":"center","baseline":"middle"},"encoding":{"x":{"field":"mz","type":"quantitative","scale":{"domain":[571.24526,571.26506],"range":[525,872.7],"nice":false,"zero":false},"axis":null},"y":{"field":"i","type":"quantitative","scale":{"domain":[0,100],"range":[707.3,516.7],"nice":false,"zero":false},"axis":null},"text":{"field":"t"}}},
 {"data":{"name":"bot_peaks"},"mark":{"type":"rule","color":"#111","strokeWidth":1.8},"encoding":{"x":{"field":"mz","type":"quantitative","scale":{"domain":[169.4,1206.9],"range":[77,851],"nice":false,"zero":false},"axis":{"orient":"bottom","offset":-21.3,"zindex":1,"title":null,"values":[180,200,220,240,260,280,300,320,340,360,380,400,420,440,460,480,500,520,540,560,580,600,620,640,660,680,700,720,740,760,780,800,820,840,860,880,900,920,940,960,980,1000,1020,1040,1060,1080,1100,1120,1140,1160,1180,1200],"format":"d","labelExpr":"(datum.value % 100 === 0 && datum.value <= 1100) ? datum.label : ''","tickSize":3,"labelPadding":1,"labelFontSize":17}},"y":{"field":"i","type":"quantitative","scale":{"domain":[0,100],"range":[1126.7,848.3],"nice":false,"zero":false},"axis":null},"y2":{"datum":0}}},
 {"data":{"name":"bot_dash"},"mark":{"type":"rule","color":"#1a9fdb","strokeWidth":1.6,"strokeDash":[4,3]},"encoding":{"x":{"field":"mz","type":"quantitative","scale":{"domain":[169.4,1206.9],"range":[77,851],"nice":false,"zero":false},"axis":null},"y":{"field":"i1","type":"quantitative","scale":{"domain":[0,100],"range":[1126.7,848.3],"nice":false,"zero":false},"axis":null},"y2":{"field":"i2"}}},
 {"data":{"name":"bot_arr"},"mark":{"type":"rule","color":"#1a9fdb","strokeWidth":2.2},"encoding":{"x":{"field":"a","type":"quantitative","scale":{"domain":[169.4,1206.9],"range":[77,851],"nice":false,"zero":false},"axis":null},"x2":{"field":"b"},"xOffset":{"value":3},"x2Offset":{"value":-3},"y":{"field":"i","type":"quantitative","scale":{"domain":[0,100],"range":[1126.7,848.3],"nice":false,"zero":false},"axis":null}}},
 {"data":{"name":"bot_arr"},"mark":{"type":"point","shape":"triangle-left","filled":true,"color":"#1a9fdb","size":50,"opacity":1},"encoding":{"x":{"field":"a","type":"quantitative","scale":{"domain":[169.4,1206.9],"range":[77,851],"nice":false,"zero":false},"axis":null},"xOffset":{"value":5},"y":{"field":"i","type":"quantitative","scale":{"domain":[0,100],"range":[1126.7,848.3],"nice":false,"zero":false},"axis":null}}},
 {"data":{"name":"bot_arr"},"mark":{"type":"point","shape":"triangle-right","filled":true,"color":"#1a9fdb","size":50,"opacity":1},"encoding":{"x":{"field":"b","type":"quantitative","scale":{"domain":[169.4,1206.9],"range":[77,851],"nice":false,"zero":false},"axis":null},"xOffset":{"value":-5},"y":{"field":"i","type":"quantitative","scale":{"domain":[0,100],"range":[1126.7,848.3],"nice":false,"zero":false},"axis":null}}},
 {"data":{"name":"bot_res"},"mark":{"type":"text","color":"#1a9fdb","font":"Lato","fontSize":25,"align":"center","baseline":"middle"},"encoding":{"x":{"field":"mz","type":"quantitative","scale":{"domain":[169.4,1206.9],"range":[77,851],"nice":false,"zero":false},"axis":null},"y":{"field":"i","type":"quantitative","scale":{"domain":[0,100],"range":[1126.7,848.3],"nice":false,"zero":false},"axis":null},"text":{"field":"t"}}},
 {"data":{"name":"bot_lead"},"mark":{"type":"line","color":"#f26649","strokeWidth":1.6},"encoding":{"x":{"field":"mz","type":"quantitative","scale":{"domain":[169.4,1206.9],"range":[77,851],"nice":false,"zero":false},"axis":null},"y":{"field":"i","type":"quantitative","scale":{"domain":[0,100],"range":[1126.7,848.3],"nice":false,"zero":false},"axis":null},"detail":{"field":"id"},"order":{"field":"s"}}},
 {"data":{"name":"bot_ions"},"mark":{"type":"text","color":"#f26649","fontSize":25,"fontWeight":"bold","align":"left","baseline":"alphabetic"},"encoding":{"x":{"field":"mz","type":"quantitative","scale":{"domain":[169.4,1206.9],"range":[77,851],"nice":false,"zero":false},"axis":null},"y":{"field":"i","type":"quantitative","scale":{"domain":[0,100],"range":[1126.7,848.3],"nice":false,"zero":false},"axis":null},"text":{"field":"b"}}},
 {"data":{"name":"bot_ions"},"mark":{"type":"text","color":"#f26649","fontSize":17,"fontWeight":"bold","align":"left","baseline":"alphabetic","dx":13,"dy":6},"encoding":{"x":{"field":"mz","type":"quantitative","scale":{"domain":[169.4,1206.9],"range":[77,851],"nice":false,"zero":false},"axis":null},"y":{"field":"i","type":"quantitative","scale":{"domain":[0,100],"range":[1126.7,848.3],"nice":false,"zero":false},"axis":null},"text":{"field":"s"}}},
 {"data":{"name":"bot_ions"},"mark":{"type":"text","color":"#f26649","fontSize":16,"fontWeight":"bold","align":"left","baseline":"alphabetic","dx":21,"dy":-11},"encoding":{"x":{"field":"mz","type":"quantitative","scale":{"domain":[169.4,1206.9],"range":[77,851],"nice":false,"zero":false},"axis":null},"y":{"field":"i","type":"quantitative","scale":{"domain":[0,100],"range":[1126.7,848.3],"nice":false,"zero":false},"axis":null},"text":{"field":"p"}}},
 {"data":{"name":"bot_black"},"mark":{"type":"text","color":"#111","fontSize":23,"align":"left","baseline":"middle"},"encoding":{"x":{"field":"mz","type":"quantitative","scale":{"domain":[169.4,1206.9],"range":[77,851],"nice":false,"zero":false},"axis":null},"y":{"field":"i","type":"quantitative","scale":{"domain":[0,100],"range":[1126.7,848.3],"nice":false,"zero":false},"axis":null},"text":{"field":"t"}}},
 {"data":{"name":"bot_mz"},"mark":{"type":"text","color":"#333","fontSize":16,"fontStyle":"italic","align":"center","baseline":"middle"},"encoding":{"x":{"field":"mz","type":"quantitative","scale":{"domain":[169.4,1206.9],"range":[77,851],"nice":false,"zero":false},"axis":null},"y":{"field":"i","type":"quantitative","scale":{"domain":[0,100],"range":[1126.7,848.3],"nice":false,"zero":false},"axis":null},"text":{"field":"t"}}},
 {"data":{"name":"in3_peaks"},"mark":{"type":"rule","color":"#111","strokeWidth":2},"encoding":{"x":{"field":"mz","type":"quantitative","scale":{"domain":[622.613,627.035],"range":[48.3,366.7],"nice":false,"zero":false},"axis":{"orient":"bottom","offset":-207.3,"zindex":1,"title":null,"values":[623,624,625,626],"format":".1f","tickSize":3,"labelPadding":1,"labelFontSize":16,"domainWidth":2.2}},"y":{"field":"i","type":"quantitative","scale":{"domain":[0,100],"range":[940.7,819.3],"nice":false,"zero":false},"axis":null},"y2":{"datum":0}}},
 {"data":{"name":"in3_dash"},"mark":{"type":"rule","color":"#1a9fdb","strokeWidth":1.6,"strokeDash":[4,3]},"encoding":{"x":{"field":"mz","type":"quantitative","scale":{"domain":[622.613,627.035],"range":[48.3,366.7],"nice":false,"zero":false},"axis":null},"y":{"field":"i1","type":"quantitative","scale":{"domain":[0,100],"range":[940.7,819.3],"nice":false,"zero":false},"axis":null},"y2":{"field":"i2"}}},
 {"data":{"name":"in3_arr"},"mark":{"type":"rule","color":"#1a9fdb","strokeWidth":2.2},"encoding":{"x":{"field":"a","type":"quantitative","scale":{"domain":[622.613,627.035],"range":[48.3,366.7],"nice":false,"zero":false},"axis":null},"x2":{"field":"b"},"xOffset":{"value":3},"x2Offset":{"value":-3},"y":{"field":"i","type":"quantitative","scale":{"domain":[0,100],"range":[940.7,819.3],"nice":false,"zero":false},"axis":null}}},
 {"data":{"name":"in3_arr"},"mark":{"type":"point","shape":"triangle-left","filled":true,"color":"#1a9fdb","size":45,"opacity":1},"encoding":{"x":{"field":"a","type":"quantitative","scale":{"domain":[622.613,627.035],"range":[48.3,366.7],"nice":false,"zero":false},"axis":null},"xOffset":{"value":5},"y":{"field":"i","type":"quantitative","scale":{"domain":[0,100],"range":[940.7,819.3],"nice":false,"zero":false},"axis":null}}},
 {"data":{"name":"in3_arr"},"mark":{"type":"point","shape":"triangle-right","filled":true,"color":"#1a9fdb","size":45,"opacity":1},"encoding":{"x":{"field":"b","type":"quantitative","scale":{"domain":[622.613,627.035],"range":[48.3,366.7],"nice":false,"zero":false},"axis":null},"xOffset":{"value":-5},"y":{"field":"i","type":"quantitative","scale":{"domain":[0,100],"range":[940.7,819.3],"nice":false,"zero":false},"axis":null}}},
 {"data":{"name":"in3_num"},"mark":{"type":"text","color":"#222","fontSize":16,"align":"center","baseline":"middle"},"encoding":{"x":{"field":"mz","type":"quantitative","scale":{"domain":[622.613,627.035],"range":[48.3,366.7],"nice":false,"zero":false},"axis":null},"y":{"field":"i","type":"quantitative","scale":{"domain":[0,100],"range":[940.7,819.3],"nice":false,"zero":false},"axis":null},"text":{"field":"t"}}},
 {"data":{"name":"in3_red"},"mark":{"type":"text","color":"#f07a6a","fontSize":14,"align":"center","baseline":"middle"},"encoding":{"x":{"field":"mz","type":"quantitative","scale":{"domain":[622.613,627.035],"range":[48.3,366.7],"nice":false,"zero":false},"axis":null},"y":{"field":"i","type":"quantitative","scale":{"domain":[0,100],"range":[940.7,819.3],"nice":false,"zero":false},"axis":null},"text":{"field":"t"}}},
 {"data":{"name":"in3_z"},"mark":{"type":"text","color":"#f26649","fontSize":22,"fontWeight":"bold","align":"left","baseline":"alphabetic"},"encoding":{"x":{"field":"mz","type":"quantitative","scale":{"domain":[622.613,627.035],"range":[48.3,366.7],"nice":false,"zero":false},"axis":null},"y":{"field":"i","type":"quantitative","scale":{"domain":[0,100],"range":[940.7,819.3],"nice":false,"zero":false},"axis":null},"text":{"field":"b"}}},
 {"data":{"name":"in3_z"},"mark":{"type":"text","color":"#f26649","fontSize":15,"fontWeight":"bold","align":"left","baseline":"alphabetic","dx":12,"dy":5},"encoding":{"x":{"field":"mz","type":"quantitative","scale":{"domain":[622.613,627.035],"range":[48.3,366.7],"nice":false,"zero":false},"axis":null},"y":{"field":"i","type":"quantitative","scale":{"domain":[0,100],"range":[940.7,819.3],"nice":false,"zero":false},"axis":null},"text":{"field":"s"}}},
 {"data":{"name":"in3_z"},"mark":{"type":"text","color":"#f26649","fontSize":14,"fontWeight":"bold","align":"left","baseline":"alphabetic","dx":19,"dy":-10},"encoding":{"x":{"field":"mz","type":"quantitative","scale":{"domain":[622.613,627.035],"range":[48.3,366.7],"nice":false,"zero":false},"axis":null},"y":{"field":"i","type":"quantitative","scale":{"domain":[0,100],"range":[940.7,819.3],"nice":false,"zero":false},"axis":null},"text":{"field":"p"}}},
 {"data":{"name":"in3_mz"},"mark":{"type":"text","color":"#333","fontSize":15,"fontStyle":"italic","align":"center","baseline":"middle"},"encoding":{"x":{"field":"mz","type":"quantitative","scale":{"domain":[622.613,627.035],"range":[48.3,366.7],"nice":false,"zero":false},"axis":null},"y":{"field":"i","type":"quantitative","scale":{"domain":[0,100],"range":[940.7,819.3],"nice":false,"zero":false},"axis":null},"text":{"field":"t"}}}
],
"resolve":{"scale":{"x":"independent","y":"independent"},"axis":{"x":"independent","y":"independent"}}
}
